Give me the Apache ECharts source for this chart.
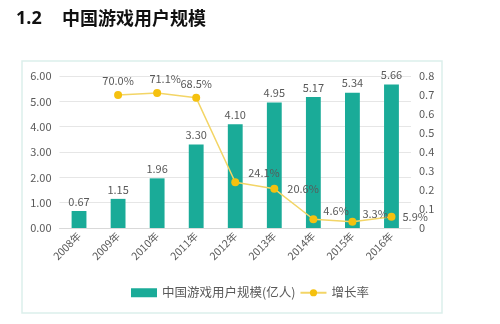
<!DOCTYPE html>
<html><head><meta charset="utf-8">
<script src="https://cdn.jsdelivr.net/npm/echarts@6/dist/echarts.min.js"></script>
<style>html,body{margin:0;padding:0;background:#fff;}#c{width:500px;height:324px;}</style>
</head><body><div id="c"></div>
<script>
const categories = ['2008年','2009年','2010年','2011年','2012年','2013年','2014年','2015年','2016年'];
const users = [0.67, 1.15, 1.96, 3.30, 4.10, 4.95, 5.17, 5.34, 5.66];
const growth = [null, 0.700, 0.711, 0.685, 0.241, 0.206, 0.046, 0.033, 0.059];
const growthLabels = ['', '70.0%', '71.1%', '68.5%', '24.1%', '20.6%', '4.6%', '3.3%', '5.9%'];
const labelPos = [null, 'top', 'top', 'top', 'right', 'right', 'right', 'right', 'right'];
const labelOff = [null, [0,0], [8,0], [0,0], [4,-9], [4,0], [1,-8], [1,-8], [2,0]];

const font = '"Noto Sans CJK SC", "Open Sans", sans-serif';
const chart = echarts.init(document.getElementById('c'));
chart.setOption({
  animation: false,
  textStyle: {fontFamily: font},
  graphic: [
    {type:'rect', shape:{x:22, y:61, width:420, height:252}, style:{fill:'none', stroke:'#dcefeb', lineWidth:1.5}},
    {type:'text', left:16, top:10, style:{text:'1.2', font:'bold 18px "Open Sans", sans-serif', fill:'#111'}},
    {type:'text', left:62, top:9, style:{text:'中国游戏用户规模', font:'bold 18px "Noto Sans CJK SC", sans-serif', fill:'#111'}}
  ],
  legend: {
    bottom: 20, left: 'center',
    itemWidth: 26, itemHeight: 9, itemGap: 4,
    textStyle: {fontSize: 12.5, color: '#595959', fontFamily: font},
    data: [
      {name:'中国游戏用户规模(亿人)', icon:'rect'},
      {name:'增长率'}
    ]
  },
  grid: {left: 59.5, right: 89, top: 76, bottom: 96},
  xAxis: {
    type: 'category', data: categories,
    axisLine: {lineStyle: {color: '#d9d9d9'}},
    axisTick: {show: false},
    axisLabel: {rotate: 45, fontSize: 10.5, color: '#595959', margin: 6, fontFamily: font}
  },
  yAxis: [
    {type:'value', min:0, max:6, interval:1,
     axisLabel:{formatter: v => v.toFixed(2), fontSize: 11, color:'#595959', margin: 8},
     axisLine:{show:false}, axisTick:{show:false},
     splitLine:{lineStyle:{color:'#e6e6e6'}}},
    {type:'value', min:0, max:0.8, interval:0.1,
     axisLabel:{formatter: v => (v===0 ? '0' : v.toFixed(1)), fontSize: 11, color:'#595959', margin: 8},
     axisLine:{show:false}, axisTick:{show:false}, splitLine:{show:false}}
  ],
  series: [
    {name:'中国游戏用户规模(亿人)', type:'bar', data: users, barWidth: '38%',
     itemStyle:{color:'#1aab98'},
     label:{show:true, position:'top', formatter: p => p.value.toFixed(2), fontSize: 11, color:'#595959', distance: 4}},
    {name:'增长率', type:'line', yAxisIndex:1,
     data: growth.map((v,i) => v === null ? null : {value: v,
       label:{position: labelPos[i], offset: labelOff[i]}}),
     symbol:'circle', symbolSize: 8,
     lineStyle:{color:'#f3d566', width: 1.5},
     itemStyle:{color:'#f5c10f'},
     label:{show:true, fontSize: 11, color:'#595959',
       formatter: p => growthLabels[p.dataIndex]}}
  ]
});
</script></body></html>
